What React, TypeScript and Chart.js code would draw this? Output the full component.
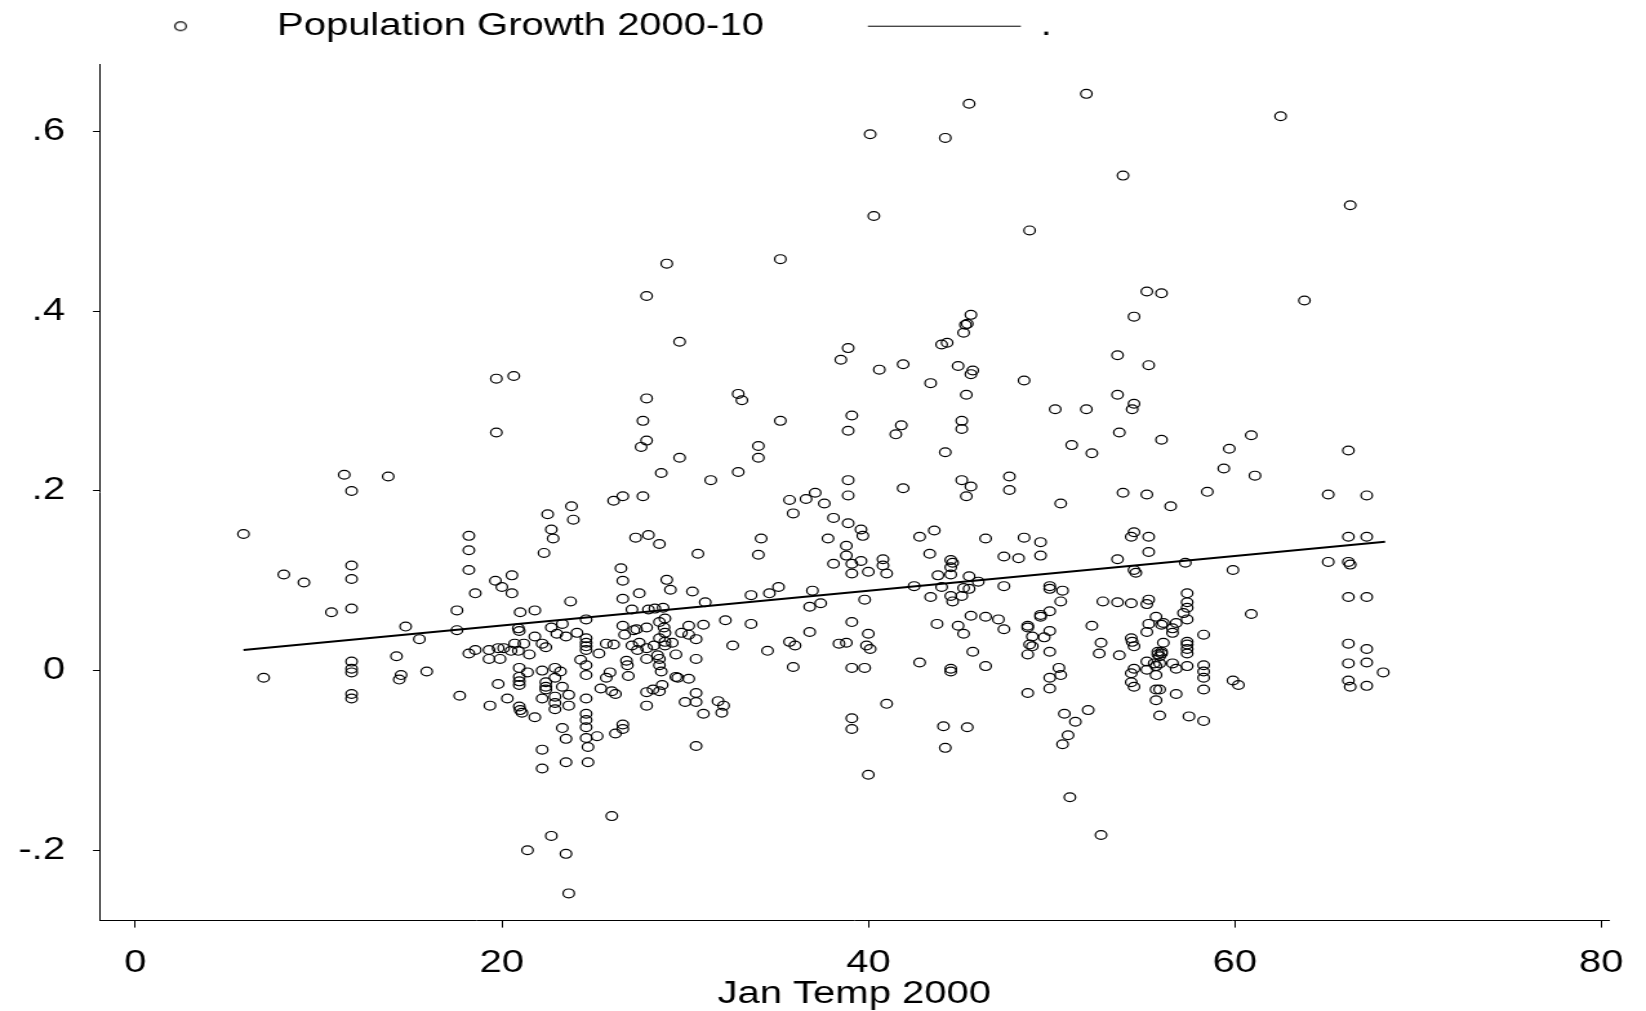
import React, { useEffect, useRef } from "react";
import { Chart, registerables } from "chart.js";

Chart.register(...registerables);

// ---------------- data ----------------
const janTemp: number[] = [
  5.9, 7.0, 8.1, 9.2, 10.7, 11.4, 11.8, 11.8, 11.8, 11.8,
  11.8, 11.8, 11.8, 11.8, 11.8, 13.8, 14.25, 14.5, 14.4, 14.75,
  15.5, 15.9, 17.55, 17.55, 17.7, 18.2, 18.2, 18.2, 18.55, 18.2,
  18.55, 19.3, 19.3, 19.35, 19.65, 19.7, 19.7, 19.8, 19.9, 19.8,
  20.0, 20.1, 20.3, 20.55, 20.55, 20.65, 20.7, 20.5, 20.9, 20.9,
  20.95, 20.95, 20.95, 20.95, 20.95, 20.95, 21.0, 21.1, 21.0, 21.2,
  21.4, 21.5, 21.4, 21.8, 21.8, 21.8, 22.2, 22.2, 22.2, 22.2,
  22.2, 22.3, 22.4, 22.4, 22.4, 22.4, 22.5, 22.7, 22.7, 22.7,
  22.8, 22.9, 22.9, 22.9, 22.9, 22.9, 23.0, 23.2, 23.3, 23.3,
  23.3, 23.5, 23.5, 23.5, 23.5, 23.65, 23.65, 23.65, 23.75, 23.8,
  23.9, 24.1, 24.3, 24.6, 24.6, 24.6, 24.6, 24.6, 24.6, 24.6,
  24.6, 24.6, 24.6, 24.6, 24.6, 24.7, 24.7, 25.2, 25.3, 25.4,
  25.7, 25.7, 25.9, 26.0, 26.0, 26.1, 26.1, 26.2, 26.6, 27.7,
  26.5, 26.6, 26.6, 27.5, 27.1, 28.0, 28.35, 28.8, 28.9, 26.6,
  27.35, 27.9, 26.7, 27.2, 28.6, 28.85, 28.9, 28.6, 28.9, 29.8,
  30.2, 30.2, 30.6, 31.0, 27.1, 27.5, 27.9, 27.4, 28.3, 28.9,
  29.3, 28.5, 28.6, 27.9, 29.5, 30.6, 26.8, 26.85, 28.6, 28.7,
  26.9, 29.5, 29.6, 30.2, 27.9, 28.25, 28.6, 28.75, 26.2, 30.6,
  27.9, 30.0, 30.6, 31.0, 31.8, 32.1, 32.0, 26.6, 26.6, 30.6,
  27.3, 28.0, 28.6, 29.0, 29.2, 30.4, 31.1, 30.7, 27.9, 29.7,
  27.9, 27.7, 27.9, 27.6, 29.7, 28.7, 31.4, 29.0, 32.9, 33.1,
  32.9, 32.2, 32.6, 33.6, 33.6, 34.0, 34.0, 34.0, 34.15, 34.5,
  34.6, 35.1, 35.2, 35.2, 35.7, 35.9, 35.7, 36.0, 35.9, 36.6,
  37.1, 37.6, 36.8, 36.8, 36.95, 37.4, 37.8, 38.1, 38.1, 38.4,
  38.8, 38.5, 38.9, 38.9, 38.8, 38.8, 38.9, 38.9, 38.9, 39.1,
  39.1, 39.1, 39.6, 39.6, 39.7, 39.1, 39.1, 39.8, 39.1, 39.1,
  39.8, 39.9, 40.1, 40.0, 40.0, 40.0, 40.1, 40.3, 40.6, 40.8,
  40.8, 41.0, 41.0, 41.5, 41.8, 41.9, 41.9, 42.5, 42.8, 42.8,
  43.35, 43.4, 43.4, 43.6, 43.75, 43.8, 44.0, 44.0, 44.3, 44.2,
  44.2, 44.1, 44.2, 44.5, 44.6, 44.5, 44.5, 44.5, 44.6, 44.5,
  44.5, 44.9, 44.9, 45.1, 45.1, 45.1, 45.1, 45.2, 45.3, 45.4,
  45.6, 45.35, 45.6, 45.7, 45.35, 45.6, 45.5, 45.2, 45.2, 45.4,
  45.5, 45.5, 45.6, 45.7, 46.0, 46.4, 46.4, 46.4, 47.1, 47.4,
  47.4, 47.4, 47.7, 47.7, 48.2, 48.5, 48.5, 48.8, 48.7, 48.7,
  48.95, 48.8, 48.95, 48.7, 48.7, 49.4, 49.4, 49.4, 49.4, 49.6,
  49.9, 49.9, 49.9, 49.9, 49.9, 49.9, 49.9, 50.2, 50.4, 50.5,
  50.5, 50.6, 50.5, 50.7, 50.9, 50.6, 51.0, 51.1, 51.3, 51.9,
  51.9, 52.0, 52.2, 52.2, 52.7, 52.6, 52.7, 52.8, 53.6, 53.6,
  53.6, 53.6, 53.7, 53.7, 53.9, 53.9, 54.35, 54.35, 54.35, 54.4,
  54.5, 54.5, 54.35, 54.35, 54.5, 54.5, 54.5, 54.5, 54.4, 54.5,
  54.6, 55.2, 55.3, 55.2, 55.3, 55.3, 55.2, 55.3, 55.2, 55.3,
  55.2, 55.2, 55.6, 55.7, 55.7, 55.7, 55.7, 55.7, 55.8, 56.0,
  56.0, 55.8, 55.9, 56.1, 55.9, 55.9, 55.9, 56.0, 56.0, 56.0,
  56.1, 56.5, 56.6, 56.6, 56.6, 56.8, 56.8, 56.8, 57.2, 57.4,
  57.4, 57.4, 57.4, 57.3, 57.4, 57.4, 57.4, 57.4, 57.4, 57.5,
  58.3, 58.3, 58.3, 58.3, 58.3, 58.3, 58.5, 59.4, 59.7, 59.9,
  59.9, 60.2, 60.9, 60.9, 61.1, 62.5, 63.8, 65.1, 65.1, 66.2,
  66.2, 66.2, 66.3, 66.3, 66.2, 66.2, 66.2, 66.2, 66.3, 67.2,
  67.2, 67.2, 67.2, 67.2, 67.2, 68.1,
];

const popGrowth: number[] = [
  0.152, -0.008, 0.107, 0.098, 0.065, 0.218, 0.2, 0.117, 0.102, 0.069,
  0.01, 0.002, -0.002, -0.026, -0.031, 0.216, 0.016, -0.005, -0.01, 0.049,
  0.035, -0.001, 0.067, 0.045, -0.028, 0.15, 0.134, 0.112, 0.086, 0.019,
  0.023, 0.023, 0.013, -0.039, 0.1, 0.325, 0.265, 0.025, 0.013, -0.015,
  0.093, 0.025, -0.031, 0.106, 0.086, 0.328, 0.03, 0.022, 0.022, 0.047,
  0.044, 0.003, -0.007, -0.012, -0.016, -0.04, -0.044, -0.047, 0.065, 0.03,
  -0.002, 0.018, -0.2, 0.067, 0.038, -0.052, 0.03, 0.0, -0.031, -0.088,
  -0.109, 0.131, 0.026, -0.013, -0.018, -0.021, 0.174, 0.157, 0.048, -0.184,
  0.147, 0.003, -0.008, -0.029, -0.036, -0.043, 0.041, -0.001, 0.052, -0.018,
  -0.064, 0.038, -0.076, -0.102, -0.204, -0.027, -0.039, -0.248, 0.077, 0.183,
  0.168, 0.042, 0.012, 0.057, 0.036, 0.031, 0.027, 0.023, 0.006, -0.005,
  -0.031, -0.048, -0.055, -0.063, -0.075, -0.085, -0.102, -0.073, 0.019, -0.02,
  0.03, -0.008, -0.002, -0.023, -0.162, 0.029, 0.189, -0.07, 0.194, 0.194,
  0.114, 0.1, 0.08, 0.086, 0.068, 0.068, 0.069, 0.07, 0.058, 0.05,
  0.046, 0.048, 0.04, 0.045, 0.054, 0.048, 0.042, 0.036, 0.032, 0.042,
  0.05, 0.04, 0.035, 0.051, 0.028, 0.031, 0.025, 0.023, 0.028, 0.028,
  0.031, 0.017, 0.013, 0.013, 0.018, 0.013, 0.011, 0.006, 0.006, -0.001,
  -0.006, -0.007, -0.008, -0.009, -0.024, -0.021, -0.023, -0.016, -0.026, -0.025,
  -0.039, -0.035, -0.035, -0.048, -0.034, -0.039, -0.047, -0.06, -0.065, -0.084,
  0.148, 0.151, 0.141, 0.101, 0.09, 0.088, 0.076, 0.13, 0.417, 0.366,
  0.303, 0.278, 0.256, 0.249, 0.237, 0.22, 0.212, 0.453, 0.308, 0.301,
  0.221, 0.056, 0.028, 0.052, 0.084, 0.25, 0.237, 0.129, 0.147, 0.022,
  0.086, 0.093, 0.278, 0.458, 0.19, 0.175, 0.032, 0.028, 0.004, 0.191,
  0.198, 0.186, 0.043, 0.071, 0.089, 0.075, 0.147, 0.17, 0.119, 0.03,
  0.031, 0.346, 0.359, 0.164, 0.139, 0.128, 0.267, 0.212, 0.195, 0.284,
  0.119, 0.108, 0.122, 0.157, 0.15, 0.054, 0.003, 0.003, -0.053, -0.065,
  0.079, 0.028, 0.024, 0.041, 0.11, -0.116, 0.597, 0.506, 0.335, 0.124,
  0.117, 0.108, -0.037, 0.263, 0.273, 0.341, 0.203, 0.094, 0.149, 0.009,
  0.13, 0.32, 0.082, 0.156, 0.052, 0.106, 0.093, 0.363, 0.365, 0.593,
  0.243, -0.062, -0.086, 0.123, 0.12, 0.115, 0.107, 0.083, 0.077, 0.002,
  -0.001, 0.339, 0.05, 0.278, 0.269, 0.212, 0.083, 0.376, 0.385, 0.386,
  0.396, 0.307, 0.33, 0.334, 0.194, 0.205, 0.631, 0.092, 0.041, -0.063,
  0.105, 0.091, 0.061, 0.021, 0.099, 0.147, 0.06, 0.005, 0.057, 0.127,
  0.094, 0.046, 0.216, 0.201, 0.125, 0.148, 0.323, 0.49, 0.05, 0.048,
  0.038, 0.029, 0.027, 0.018, -0.025, 0.143, 0.128, 0.062, 0.06, 0.037,
  0.044, 0.094, 0.091, 0.066, 0.021, -0.008, -0.02, 0.291, 0.003, -0.005,
  0.186, 0.089, 0.077, -0.048, -0.072, -0.082, -0.141, 0.251, -0.057, 0.291,
  0.642, -0.044, 0.242, 0.05, 0.031, 0.019, -0.183, 0.077, 0.351, 0.307,
  0.124, 0.076, 0.265, 0.017, 0.551, 0.198, 0.149, 0.075, 0.036, 0.032,
  0.027, 0.002, -0.003, -0.013, -0.018, 0.154, 0.394, 0.297, 0.291, 0.112,
  0.109, 0.422, 0.34, 0.196, 0.149, 0.132, 0.074, 0.079, 0.043, 0.052,
  0.01, 0.001, 0.008, 0.005, 0.06, -0.005, -0.021, -0.033, 0.021, 0.021,
  0.019, 0.018, 0.016, 0.031, 0.008, -0.021, -0.05, 0.42, 0.257, 0.051,
  0.053, 0.183, 0.042, 0.047, 0.008, 0.053, 0.002, -0.026, 0.064, 0.07,
  0.076, 0.086, 0.057, 0.12, 0.032, 0.029, 0.024, 0.019, 0.005, -0.051,
  0.04, 0.006, -0.001, -0.008, -0.021, -0.056, 0.199, 0.225, 0.247, 0.112,
  -0.011, -0.016, 0.262, 0.063, 0.217, 0.617, 0.412, 0.196, 0.121, 0.245,
  0.149, 0.121, 0.118, 0.518, 0.082, 0.03, 0.008, -0.011, -0.018, 0.195,
  0.149, 0.082, 0.024, 0.009, -0.017, -0.002,
];

// fitted line end points
const fitTemp: number[] = [5.9, 68.2];
const fitGrowth: number[] = [0.023, 0.1435];

const seriesLabel = "Population Growth 2000-10";
const fitLabel = ".";
const xTitle = "Jan Temp 2000";
const xTickValues: number[] = [0, 20, 40, 60, 80];
const yTickValues: number[] = [-0.2, 0, 0.2, 0.4, 0.6];
const yTickLabels: string[] = ["-.2", "0", ".2", ".4", ".6"];
const xRange: number[] = [-1.93, 80.4];
const yRange: number[] = [-0.2783, 0.675];

// ---------------- layout ----------------
const PAGE_W = 1646;
const PAGE_H = 1011;
const STRETCH = 1.29; // the original graph is stretched horizontally
const CANVAS_W = Math.round(PAGE_W / STRETCH);
const hx = (pagePx: number) => pagePx / STRETCH;
const FONT_FAMILY = "'Liberation Sans', Arial, Helvetica, sans-serif";
const FONT_SIZE = 31;
const INK = "#000000";
const MARK = "#000000";
const MARK_R = 4.4;
const MARK_W = 1.2;

function makeMarker(): HTMLCanvasElement {
  const c = document.createElement("canvas");
  c.width = 14;
  c.height = 14;
  const ctx = c.getContext("2d");
  if (ctx) {
    ctx.strokeStyle = MARK;
    ctx.lineWidth = MARK_W;
    ctx.beginPath();
    ctx.arc(7, 7, MARK_R, 0, Math.PI * 2);
    ctx.stroke();
  }
  return c;
}

export default function App() {
  const canvasRef = useRef<HTMLCanvasElement | null>(null);

  useEffect(() => {
    const canvas = canvasRef.current;
    if (!canvas) return;
    const marker = makeMarker();
    const font = { family: FONT_FAMILY, size: FONT_SIZE, weight: "normal" as const };

    const chart = new Chart(canvas, {
      type: "scatter",
      data: {
        datasets: [
          {
            label: seriesLabel,
            data: janTemp.map((x, i) => ({ x, y: popGrowth[i] })),
            pointRadius: MARK_R,
            pointHoverRadius: MARK_R,
            pointBorderWidth: MARK_W,
            borderColor: MARK,
            backgroundColor: "rgba(0,0,0,0)",
            showLine: false,
          },
          {
            label: fitLabel,
            data: fitTemp.map((x, i) => ({ x, y: fitGrowth[i] })),
            showLine: true,
            borderColor: INK,
            backgroundColor: INK,
            borderWidth: 2,
            pointRadius: 0,
            pointHoverRadius: 0,
            fill: false,
          },
        ],
      },
      options: {
        responsive: false,
        animation: false,
        devicePixelRatio: 1,
        events: [],
        layout: { padding: { top: -69.9, left: 0, right: hx(37), bottom: 0 } },
        plugins: {
          legend: {
            display: true,
            position: "top",
            align: "start",
            labels: {
              usePointStyle: true,
              pointStyleWidth: hx(153),
              padding: hx(104),
              color: INK,
              font,
              generateLabels: (c: any) => {
                const items = Chart.defaults.plugins.legend.labels.generateLabels(c);
                if (items[0]) {
                  items[0].pointStyle = marker;
                }
                if (items[1]) {
                  items[1].pointStyle = "line";
                  items[1].lineWidth = 1;
                  items[1].strokeStyle = INK;
                }
                return items;
              },
            },
          },
          title: {
            display: true,
            text: "",
            weight: 500,
            padding: { top: 0, bottom: 10.5 },
            font: { size: 2, lineHeight: 1 },
          },
          tooltip: { enabled: false },
        },
        scales: {
          x: {
            type: "linear",
            position: "bottom",
            bounds: "data",
            min: xRange[0],
            max: xRange[1],
            afterBuildTicks: (s: any) => {
              s.ticks = xTickValues.map((v) => ({ value: v }));
            },
            afterFit: (s: any) => {
              s.height = PAGE_H - 920.6;
            },
            grid: {
              drawOnChartArea: false,
              drawTicks: true,
              tickLength: 7,
              tickColor: INK,
              color: INK,
              lineWidth: 1,
            },
            border: { display: true, color: INK, width: 1 },
            ticks: {
              color: INK,
              font,
              padding: 17.3,
              maxRotation: 0,
              autoSkip: false,
              callback: (v: any) => String(v),
            },
            title: {
              display: true,
              text: xTitle,
              color: INK,
              font,
              padding: { top: 0, bottom: -1.6 },
            },
          },
          y: {
            type: "linear",
            position: "left",
            bounds: "data",
            min: yRange[0],
            max: yRange[1],
            afterBuildTicks: (s: any) => {
              s.ticks = yTickValues.map((v) => ({ value: v }));
            },
            afterFit: (s: any) => {
              s.width = hx(100);
            },
            grid: {
              drawOnChartArea: false,
              drawTicks: true,
              tickLength: hx(7),
              tickColor: INK,
              color: INK,
              lineWidth: 1,
            },
            border: { display: true, color: INK, width: 1 },
            ticks: {
              color: INK,
              font,
              padding: 21.7,
              autoSkip: false,
              callback: (_v: any, i: number) => yTickLabels[i],
            },
          },
        },
      },
    } as any);

    return () => chart.destroy();
  }, []);

  return (
    <div
      style={{
        position: "absolute",
        left: 0,
        top: 0,
        width: PAGE_W,
        height: PAGE_H,
        background: "#ffffff",
        overflow: "hidden",
      }}
    >
      <canvas
        ref={canvasRef}
        width={CANVAS_W}
        height={PAGE_H}
        style={{ display: "block", width: `${PAGE_W}px`, height: `${PAGE_H}px` }}
      />
    </div>
  );
}
